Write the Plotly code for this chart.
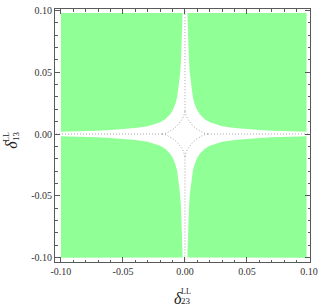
import plotly.graph_objects as go

# ---- data ----
tick_vals = [-0.1, -0.05, 0.0, 0.05, 0.1]
tick_text = ["-0.10", "-0.05", "0.00", "0.05", "0.10"]

# extent of the green (allowed) region
region_x = [-0.1, 0.098]
region_y = [-0.1002, 0.098]

# boundary of the white (excluded) band: position along an axis and band half-width
edge_pos = [0.0138, 0.016, 0.02, 0.025, 0.03, 0.04, 0.05, 0.06, 0.07, 0.08, 0.09, 0.1]
edge_half = [0.0138, 0.0119, 0.0095, 0.0076, 0.0063, 0.0048, 0.0038, 0.0032, 0.0027, 0.0024, 0.0021, 0.0019]

# dotted star-shaped curve (first quadrant)
star_x = [0.0185, 0.0180, 0.0167, 0.0146, 0.0120, 0.0092, 0.0065, 0.0042, 0.0023, 0.0010, 0.0003, 0.00004, 0.0]
star_y = [0.0, 0.00004, 0.0003, 0.0010, 0.0023, 0.0042, 0.0065, 0.0092, 0.0120, 0.0146, 0.0167, 0.0180, 0.0185]

# dotted axis-line segments (outside the star)
axis_segments = [(-0.104, -0.0185), (0.0185, 0.1012)]

green = "rgb(144,255,150)"
dot_color = "rgb(165,165,165)"
frame_color = "#5a5a5a"

fig = go.Figure()

# green quadrants
curve = list(zip(edge_half[::-1], edge_pos[::-1])) + list(zip(edge_pos[1:], edge_half[1:]))
for sx in (1, -1):
    for sy in (1, -1):
        xext = region_x[1] if sx > 0 else -region_x[0]
        yext = region_y[1] if sy > 0 else -region_y[0]
        pts = [(sx * min(x, xext), sy * min(y, yext)) for x, y in curve]
        pts.append((sx * xext, sy * yext))
        fig.add_trace(go.Scatter(
            x=[p[0] for p in pts], y=[p[1] for p in pts],
            mode="lines", line=dict(width=0), fill="toself", fillcolor=green,
            hoverinfo="skip", showlegend=False))

# dotted star curves
for sx in (1, -1):
    for sy in (1, -1):
        fig.add_trace(go.Scatter(
            x=[sx * v for v in star_x], y=[sy * v for v in star_y],
            mode="lines", line=dict(color=dot_color, width=1, dash="1px,2px"),
            hoverinfo="skip", showlegend=False))

# dotted axis lines
for a, b in axis_segments:
    fig.add_trace(go.Scatter(x=[a, b], y=[0, 0], mode="lines",
                             line=dict(color=dot_color, width=1, dash="1px,2px"),
                             hoverinfo="skip", showlegend=False))
    fig.add_trace(go.Scatter(x=[0, 0], y=[a, b], mode="lines",
                             line=dict(color=dot_color, width=1, dash="1px,2px"),
                             hoverinfo="skip", showlegend=False))

axis_common = dict(
    showline=True, linecolor=frame_color, linewidth=1, mirror="allticks",
    ticks="inside", ticklen=5, tickcolor=frame_color, tickwidth=1,
    tickvals=tick_vals, ticktext=tick_text,
    minor=dict(ticks="inside", ticklen=2.5, dtick=0.01, tick0=0, tickcolor=frame_color),
    showgrid=False, zeroline=False,
    tickfont=dict(family="Liberation Serif", size=10, color="#333333"),
)

fig.update_xaxes(range=[-0.1048, 0.1008], **axis_common)
fig.update_yaxes(range=[-0.1036, 0.1012], **axis_common)

serif = "Liberation Serif"
ann = [
    # x title
    dict(text="<i>δ</i>", x=0.4830, y=-0.146, size=16),
    dict(text="LL", x=0.5120, y=-0.1148, size=8),
    dict(text="23", x=0.5150, y=-0.1540, size=9),
]
for a in ann:
    fig.add_annotation(text=a["text"], x=a["x"], y=a["y"], xref="paper", yref="paper",
                       showarrow=False, xanchor="center", yanchor="middle",
                       font=dict(family=serif, size=a["size"], color="#222222"))
ann_y = [
    dict(text="<i>δ</i>", x=-0.1690, y=0.4630, size=16),
    dict(text="LL", x=-0.1880, y=0.4950, size=8),
    dict(text="13", x=-0.1520, y=0.4990, size=9),
]
for a in ann_y:
    fig.add_annotation(text=a["text"], x=a["x"], y=a["y"], xref="paper", yref="paper",
                       showarrow=False, xanchor="center", yanchor="middle", textangle=-90,
                       font=dict(family=serif, size=a["size"], color="#222222"))

fig.update_layout(
    width=323, height=307,
    margin=dict(l=55, r=10, t=5, b=45),
    plot_bgcolor="white", paper_bgcolor="white",
    showlegend=False,
)

fig.write_html("out.html", config={"displayModeBar": False},
               post_script="document.body.style.margin='0px';")
